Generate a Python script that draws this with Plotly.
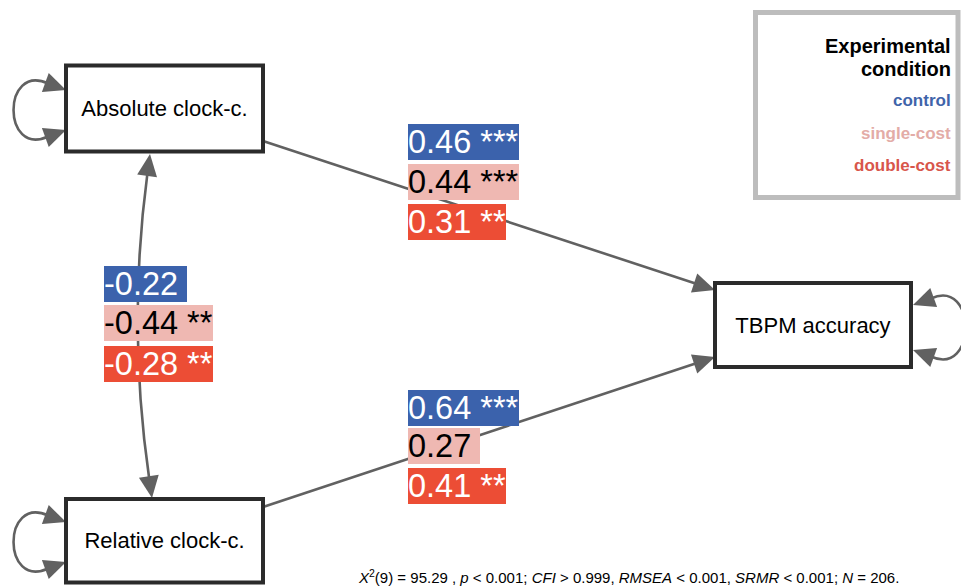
import math
import plotly.graph_objects as go

# ---------------- data ----------------
nodes = ["Absolute clock-c.", "Relative clock-c.", "TBPM accuracy"]
conditions = ["control", "single-cost", "double-cost"]
legend_title = ["Experimental", "condition"]

coef_abs_tbpm = [0.46, 0.44, 0.31]
stars_abs_tbpm = ["***", "***", "**"]
coef_rel_tbpm = [0.64, 0.27, 0.41]
stars_rel_tbpm = ["***", "", "**"]
coef_abs_rel = [-0.22, -0.44, -0.28]
stars_abs_rel = ["", "**", "**"]

chi2_df = 9
chi2_val = 95.29
fit_p = "&lt; 0.001"
fit_cfi = "&gt; 0.999"
fit_rmsea = "&lt; 0.001"
fit_srmr = "&lt; 0.001"
n_obs = 206

# ---------------- styles / layout ----------------
W, H = 961, 587
FONT = "Liberation Sans, Arial, sans-serif"
cond_bg = ["#3b62ac", "#efb8b2", "#ec4d35"]
cond_fg = ["white", "black", "white"]
legend_col = ["#3f64aa", "#e3aca7", "#d8564b"]
LINE = "#616161"
BORDER = "#2b2b2b"

# node boxes (x0, y0, x1, y1) in the pixel-like axis space
boxes = [(66, 65.5, 263, 151.5), (66, 499, 263, 582.5), (715, 283, 911, 367)]

fig = go.Figure()
shapes = []
annotations = []

def head(tip, frm, L=22, Wd=10):
    dx, dy = tip[0] - frm[0], tip[1] - frm[1]
    n = math.hypot(dx, dy)
    ux, uy = dx / n, dy / n
    bx, by = tip[0] - L * ux, tip[1] - L * uy
    px, py = -uy, ux
    shapes.append(dict(
        type="path", xref="x", yref="y", layer="below",
        path=f"M {tip[0]},{tip[1]} L {bx + Wd * px},{by + Wd * py} L {bx - Wd * px},{by - Wd * py} Z",
        fillcolor=LINE, line=dict(width=0)))
    return (tip[0] - (L - 3) * ux, tip[1] - (L - 3) * uy)

def straight(start, tip):
    end = head(tip, start)
    shapes.append(dict(type="line", xref="x", yref="y", layer="below",
                       x0=start[0], y0=start[1], x1=end[0], y1=end[1],
                       line=dict(color=LINE, width=2.6)))

# directed paths
straight((263, 141), (715, 290))
straight((263, 507), (715, 357))

# covariance (curved, double headed)
p0, c, p2 = (150, 154), (127, 326), (152, 498)
s0 = head(p0, (p0[0] + (c[0] - p0[0]) * 0.1, p0[1] + (c[1] - p0[1]) * 0.1))
s2 = head(p2, (p2[0] + (c[0] - p2[0]) * 0.1, p2[1] + (c[1] - p2[1]) * 0.1))
shapes.append(dict(type="path", xref="x", yref="y", layer="below",
                   path=f"M {s0[0]},{s0[1]} Q {c[0]},{c[1]} {s2[0]},{s2[1]}",
                   line=dict(color=LINE, width=2.6)))

# residual self-loops
def loop(y_top, y_bot, x_edge, side):
    a = head((x_edge, y_top), (x_edge - 22 * side, y_top - 8))
    b = head((x_edge, y_bot), (x_edge - 22 * side, y_bot + 8))
    cx = x_edge - 64 * side
    shapes.append(dict(type="path", xref="x", yref="y", layer="below",
                       path=f"M {a[0]},{a[1]} C {cx},{a[1] - 21} {cx},{b[1] + 21} {b[0]},{b[1]}",
                       line=dict(color=LINE, width=2.6)))

loop(90, 130, 66, 1)
loop(522, 562, 66, 1)
loop(305, 350, 913, -1)

# node boxes
for (x0, y0, x1, y1) in boxes:
    shapes.append(dict(type="rect", xref="x", yref="y", x0=x0, y0=y0, x1=x1, y1=y1,
                       layer="below", line=dict(color=BORDER, width=4), fillcolor="white"))

# node labels via a text trace
fig.add_trace(go.Scatter(
    x=[(b[0] + b[2]) / 2 for b in boxes],
    y=[(b[1] + b[3]) / 2 + 2 for b in boxes],
    text=nodes, mode="text",
    textfont=dict(family=FONT, size=22, color="black"),
    hoverinfo="skip", showlegend=False))

# coefficient labels
def coef_group(x_left, y_centers, coefs, stars):
    for i, (v, s) in enumerate(zip(coefs, stars)):
        annotations.append(dict(
            x=x_left, y=y_centers[i], xref="x", yref="y", xanchor="left", yanchor="middle",
            text=f"{v:.2f}\u00a0{s}", showarrow=False,
            font=dict(family=FONT, size=32.5, color=cond_fg[i]),
            bgcolor=cond_bg[i], borderpad=0, borderwidth=0))

coef_group(408, [142, 181.5, 221.5], coef_abs_tbpm, stars_abs_tbpm)
coef_group(104, [283.5, 323, 364], coef_abs_rel, stars_abs_rel)
coef_group(408, [407.5, 446, 486], coef_rel_tbpm, stars_rel_tbpm)

# legend box
shapes.append(dict(type="rect", xref="x", yref="y", x0=755.5, y0=12.5, x1=958, y1=197.5,
                   line=dict(color="#bdbdbd", width=5), fillcolor="white", layer="below"))
for t, ypos in zip(legend_title, [46, 69]):
    annotations.append(dict(x=953, y=ypos, xref="x", yref="y", xanchor="right", yanchor="middle",
                            text=f"<b>{t}</b>", showarrow=False,
                            font=dict(family=FONT, size=20, color="black")))
for i, (cname, ypos) in enumerate(zip(conditions, [100, 133, 165])):
    annotations.append(dict(x=953, y=ypos, xref="x", yref="y", xanchor="right", yanchor="middle",
                            text=f"<b>{cname}</b>", showarrow=False,
                            font=dict(family=FONT, size=17, color=legend_col[i])))

# fit statistics
fit_text = (f"<i>X</i><sup>2</sup>({chi2_df}) = {chi2_val:.2f} , <i>p</i> {fit_p}; "
            f"<i>CFI</i> {fit_cfi}, <i>RMSEA</i> {fit_rmsea}, <i>SRMR</i> {fit_srmr}; "
            f"<i>N</i> = {n_obs}.")
annotations.append(dict(x=628, y=576, xref="x", yref="y", xanchor="center", yanchor="middle",
                        text=fit_text, showarrow=False,
                        font=dict(family=FONT, size=15, color="black")))

fig.update_layout(
    width=W, height=H, autosize=False,
    margin=dict(l=0, r=0, t=0, b=0),
    paper_bgcolor="white", plot_bgcolor="white",
    xaxis=dict(range=[0, W], visible=False, fixedrange=True),
    yaxis=dict(range=[H, 0], visible=False, fixedrange=True),
    shapes=shapes, annotations=annotations, showlegend=False,
)
fig.write_html("out.html", config={"displayModeBar": False},
               post_script="document.body.style.margin='0';document.body.style.overflow='hidden';")
